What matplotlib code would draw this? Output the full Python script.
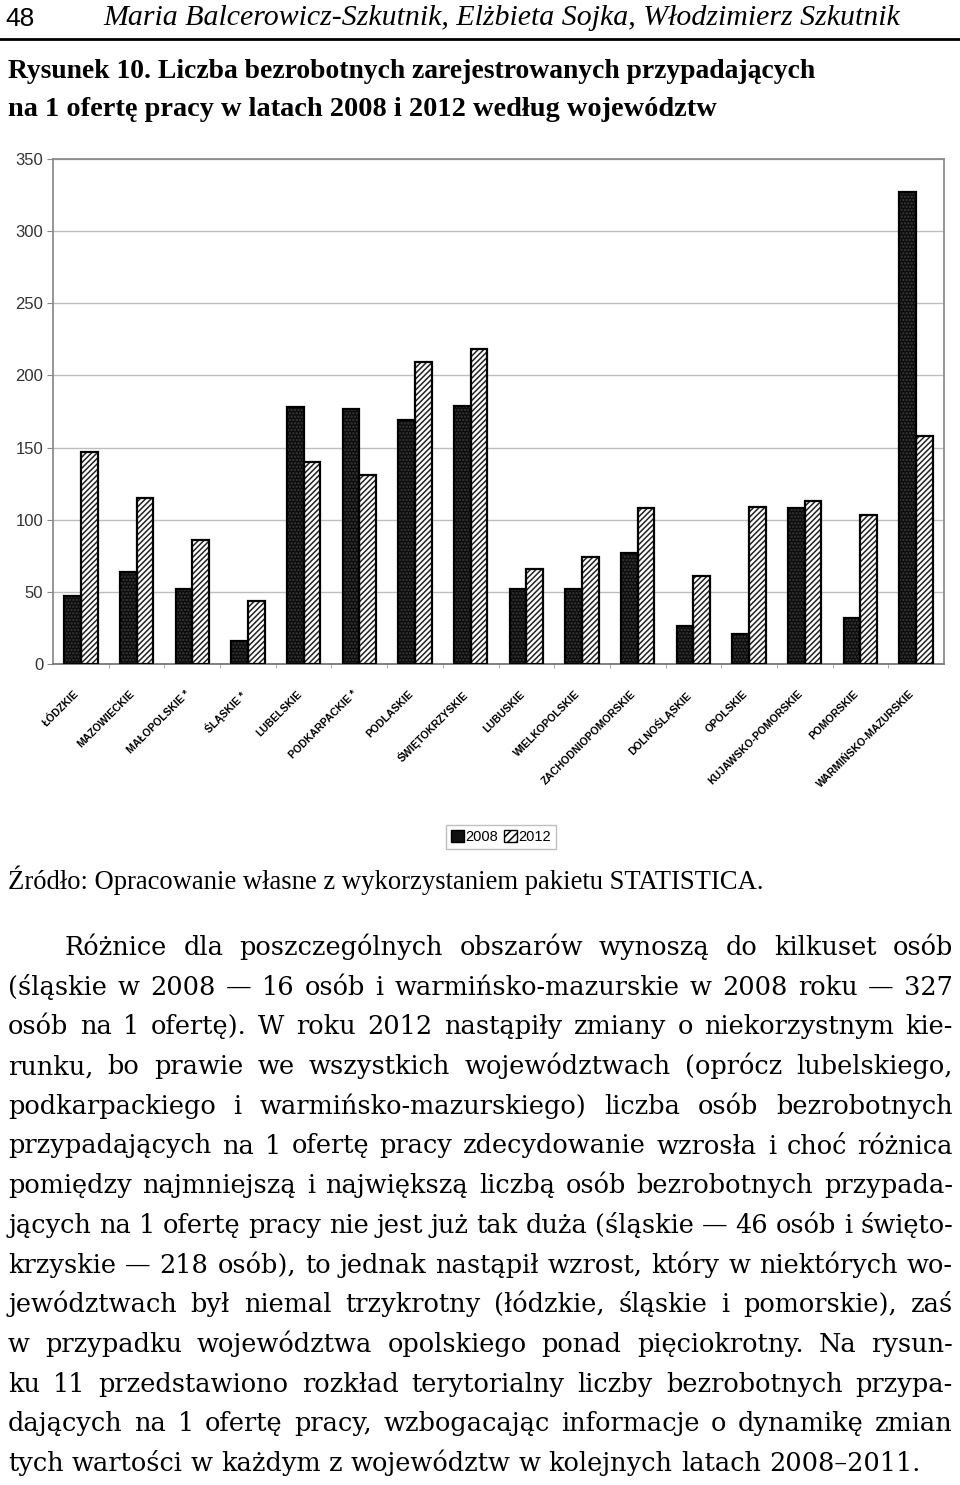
import numpy as np
import matplotlib
matplotlib.use('Agg')
import matplotlib.pyplot as plt
from matplotlib.lines import Line2D
from matplotlib.patches import Patch

# --- dane ---
wojewodztwa = ['ŁÓDZKIE', 'MAZOWIECKIE', 'MAŁOPOLSKIE *', 'ŚLĄSKIE *', 'LUBELSKIE',
               'PODKARPACKIE *', 'PODLASKIE', 'ŚWIĘTOKRZYSKIE', 'LUBUSKIE',
               'WIELKOPOLSKIE', 'ZACHODNIOPOMORSKIE', 'DOLNOŚLĄSKIE', 'OPOLSKIE',
               'KUJAWSKO-POMORSKIE', 'POMORSKIE', 'WARMIŃSKO-MAZURSKIE']
wartosci_2008 = [47, 64, 52, 16, 178, 177, 169, 179, 52, 52, 77, 26, 21, 108, 32, 327]
wartosci_2012 = [147, 115, 86, 44, 140, 131, 209, 218, 66, 74, 108, 61, 109, 113, 103, 158]
lata = ['2008', '2012']
y_ticki = [0, 50, 100, 150, 200, 250, 300, 350]

naglowek_nr = '48'
naglowek_autorzy = 'Maria Balcerowicz-Szkutnik, Elżbieta Sojka, Włodzimierz Szkutnik'
tytul = ['Rysunek 10. Liczba bezrobotnych zarejestrowanych przypadających',
         'na 1 ofertę pracy w latach 2008 i 2012 według województw']
zrodlo = 'Źródło: Opracowanie własne z wykorzystaniem pakietu STATISTICA.'
akapit = [
    'Różnice dla poszczególnych obszarów wynoszą do kilkuset osób',
    '(śląskie w 2008 — 16 osób i warmińsko-mazurskie w 2008 roku — 327',
    'osób na 1 ofertę). W roku 2012 nastąpiły zmiany o niekorzystnym kie-',
    'runku, bo prawie we wszystkich województwach (oprócz lubelskiego,',
    'podkarpackiego i warmińsko-mazurskiego) liczba osób bezrobotnych',
    'przypadających na 1 ofertę pracy zdecydowanie wzrosła i choć różnica',
    'pomiędzy najmniejszą i największą liczbą osób bezrobotnych przypada-',
    'jących na 1 ofertę pracy nie jest już tak duża (śląskie — 46 osób i święto-',
    'krzyskie — 218 osób), to jednak nastąpił wzrost, który w niektórych wo-',
    'jewództwach był niemal trzykrotny (łódzkie, śląskie i pomorskie), zaś',
    'w przypadku województwa opolskiego ponad pięciokrotny. Na rysun-',
    'ku 11 przedstawiono rozkład terytorialny liczby bezrobotnych przypa-',
    'dających na 1 ofertę pracy, wzbogacając informacje o dynamikę zmian',
    'tych wartości w każdym z województw w kolejnych latach 2008–2011.',
]

W, H = 960, 1485
plt.rcParams['hatch.linewidth'] = 1.1

fig = plt.figure(figsize=(W / 100, H / 100), dpi=100)
fig.patch.set_facecolor('white')
renderer = fig.canvas.get_renderer()


def fx(x):
    return x / W


def fy(y):
    return 1 - y / H


def tekst_dopasowany(x, y, s, szer, size=20, **kw):
    """Tekst o zadanej szerokości (w pikselach)."""
    t = fig.text(fx(x), fy(y), s, fontsize=size, ha='left', **kw)
    w = t.get_window_extent(renderer).width
    t.set_fontsize(size * szer / w)
    return t


def linia_wyjustowana(y, linia, x0, x1, size, family, justuj=True):
    slowa = linia.split(' ')
    arts = [fig.text(0, 0, s, fontsize=size, family=family, va='baseline')
            for s in slowa]
    szer = [a.get_window_extent(renderer).width for a in arts]
    spacja = fig.text(0, 0, 'a a', fontsize=size, family=family).get_window_extent(renderer).width \
        - fig.text(0, 0, 'aa', fontsize=size, family=family).get_window_extent(renderer).width
    for t in fig.texts[-2:]:
        t.remove()
    if justuj and len(slowa) > 1:
        gap = (x1 - x0 - sum(szer)) / (len(slowa) - 1)
    else:
        gap = spacja
    x = x0
    for a, w in zip(arts, szer):
        a.set_position((fx(x), fy(y)))
        x += w + gap


# --- nagłówek strony ---
fig.text(fx(5), fy(19), naglowek_nr, fontsize=19, family='Liberation Sans', va='center')
tekst_dopasowany(103, 18, naglowek_autorzy, 797, family='Liberation Serif',
                 style='italic', va='center')
fig.add_artist(Line2D([0, 1], [fy(39), fy(39)], color='black', lw=2))

tekst_dopasowany(8, 72, tytul[0], 807, family='Liberation Serif', weight='bold', va='center')
tekst_dopasowany(8, 110, tytul[1], 707, family='Liberation Serif', weight='bold', va='center')

# --- wykres ---
ax = fig.add_axes([fx(53), fy(664), (944 - 53) / W, (664 - 159) / H])
x = np.arange(len(wojewodztwa))
szer_slupka = 0.3

ax.bar(x - szer_slupka / 2, wartosci_2008, szer_slupka, color='#0c0c0c',
       edgecolor='#3a3a3a', hatch='.....', lw=0, zorder=3)
ax.bar(x - szer_slupka / 2, wartosci_2008, szer_slupka, fill=False,
       edgecolor='black', lw=1.6, zorder=4)
ax.bar(x + szer_slupka / 2, wartosci_2012, szer_slupka, color='white',
       edgecolor='#222222', hatch='//////', lw=0, zorder=3)
ax.bar(x + szer_slupka / 2, wartosci_2012, szer_slupka, fill=False,
       edgecolor='black', lw=1.6, zorder=4)

ax.set_xlim(-0.5, len(wojewodztwa) - 0.5)
ax.set_ylim(0, 350)
ax.set_yticks(y_ticki)
ax.set_yticklabels([str(v) for v in y_ticki], family='Liberation Sans',
                   fontsize=12, color='#333333')
ax.yaxis.grid(True, color='#bdbdbd', lw=1)
ax.set_axisbelow(True)
ax.tick_params(axis='y', length=4, color='#888888', pad=3)

ax.set_xticks(x)
ax.set_xticklabels(wojewodztwa, rotation=45, ha='right', va='top',
                   family='Liberation Sans', fontsize=7.6, weight='bold')
ax.set_xticks(x[:-1] + 0.5, minor=True)
ax.tick_params(axis='x', which='major', length=0, pad=18)
ax.tick_params(axis='x', which='minor', length=3, color='#999999')

for nazwa, sp in ax.spines.items():
    sp.set_color('#8c8c8c')
    sp.set_linewidth(1.3)
ax.spines['bottom'].set_color('#777777')

uchwyty = [Patch(facecolor='#111111', edgecolor='black', lw=1),
           Patch(facecolor='white', edgecolor='black', hatch='////', lw=1)]
fig.legend(uchwyty, lata, loc='center', bbox_to_anchor=(fx(501), fy(837)),
           ncol=2, frameon=True, fancybox=False, edgecolor='#b0b0b0',
           prop={'family': 'Liberation Sans', 'size': 10.5},
           handlelength=0.9, handleheight=0.9, handletextpad=0.1,
           columnspacing=0.4, borderpad=0.35, borderaxespad=0)

# --- źródło i tekst ---
tekst_dopasowany(8, 880, zrodlo, 757, family='Liberation Serif', va='center')

rodzina = 'DejaVu Serif'
probny = fig.text(0, 0, akapit[-1], fontsize=16, family=rodzina)
rozmiar = 16 * 914 / probny.get_window_extent(renderer).width
probny.remove()

for i, linia in enumerate(akapit):
    y = 955 + 39.7 * i
    x0 = 65 if i == 0 else 8
    linia_wyjustowana(y, linia, x0, 953, rozmiar, rodzina,
                      justuj=(i < len(akapit) - 1))

fig.savefig('out.png', dpi=100)
